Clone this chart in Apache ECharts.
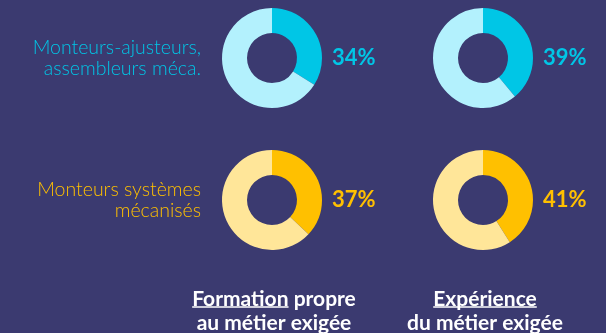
<!DOCTYPE html>
<html>
<head>
<meta charset="utf-8">
<script src="https://cdn.jsdelivr.net/npm/echarts@6/dist/echarts.min.js"></script>
<style>
  html, body { margin: 0; padding: 0; background: #3b3a70; }
  #chart { width: 606px; height: 333px; }
</style>
</head>
<body>
<div id="chart"></div>
<script>
// Share of recruitments requiring each condition, per job family
const rowLabels = [['Monteurs-ajusteurs,', 'assembleurs méca.'], ['Monteurs systèmes', 'mécanisés']];
const columnTitles = [['Formation', ' propre', 'au métier exigée'], ['Expérience', '', 'du métier exigée']];
const formationShare = [34, 37];   // % per row
const experienceShare = [39, 41];  // % per row

const rowColors = [
  { main: '#00c6e6', light: '#b3f1fd' },
  { main: '#ffc000', light: '#ffe699' }
];

const font = 'Lato, "Open Sans", sans-serif';
const centersX = [272, 483];
const centersY = [58, 200];
const columns = [formationShare, experienceShare];
const titleFont = 'bold 21px ' + font;

const series = [];
const graphic = [];

columns.forEach((values, c) => {
  values.forEach((v, r) => {
    series.push({
      type: 'pie',
      radius: [25, 50],
      center: [centersX[c], centersY[r]],
      startAngle: 90,
      clockwise: true,
      silent: true,
      label: { show: false },
      labelLine: { show: false },
      itemStyle: { borderWidth: 0 },
      data: [
        { value: v, itemStyle: { color: rowColors[r].main } },
        { value: 100 - v, itemStyle: { color: rowColors[r].light } }
      ]
    });
    graphic.push({
      type: 'text',
      x: centersX[c] + 60,
      y: centersY[r] - 11,
      style: {
        text: v + '%',
        fill: rowColors[r].main,
        font: 'bold 22px ' + font
      }
    });
  });
});

// Row labels on the left, right-aligned against the first column
rowLabels.forEach((lines, r) => {
  graphic.push({
    type: 'text',
    x: 201,
    y: centersY[r] - 21,
    style: {
      text: lines.join('\n'),
      fill: rowColors[r].main,
      font: '300 19.5px ' + font,
      align: 'right',
      lineHeight: 21
    }
  });
});

// Column titles underneath, first word underlined
columnTitles.forEach((t, c) => {
  graphic.push({
    type: 'text',
    x: centersX[c] + 2,
    y: 287,
    style: {
      text: t[0] + t[1] + '\n' + t[2],
      fill: '#ffffff',
      font: titleFont,
      align: 'center',
      lineHeight: 24
    }
  });
});

const chart = echarts.init(document.getElementById('chart'));

// Underline the key word of each column title, measured with the same font
const measure = document.createElement('canvas').getContext('2d');
measure.font = titleFont;
const underlines = columnTitles.map((t, c) => {
  const full = measure.measureText(t[0] + t[1]).width;
  const word = measure.measureText(t[0]).width;
  const x0 = centersX[c] + 2 - full / 2;
  return {
    type: 'line',
    shape: { x1: x0, y1: 307, x2: x0 + word, y2: 307 },
    style: { stroke: '#ffffff', lineWidth: 1.5 }
  };
});

chart.setOption({
  backgroundColor: '#3b3a70',
  animation: false,
  series: series,
  graphic: graphic.concat(underlines)
});
</script>
</body>
</html>
